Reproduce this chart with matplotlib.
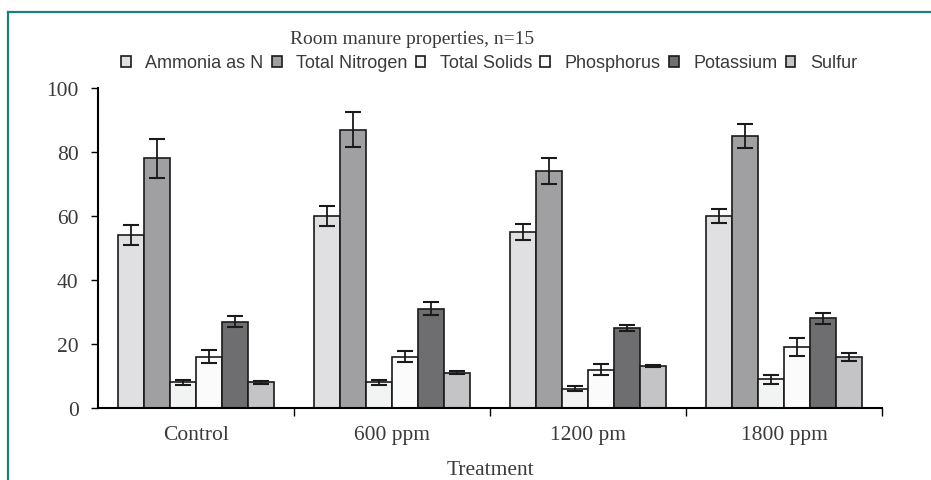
import matplotlib
matplotlib.use("Agg")
import matplotlib.pyplot as plt
import numpy as np
from matplotlib.lines import Line2D

categories = ["Control", "600 ppm", "1200 pm", "1800 ppm"]
series = ["Ammonia as N", "Total Nitrogen", "Total Solids", "Phosphorus", "Potassium", "Sulfur"]
ammonia = [54, 60, 55, 60]
total_nitrogen = [78, 87, 74, 85]
total_solids = [8, 8, 6, 9]
phosphorus = [16, 16, 12, 19]
potassium = [27, 31, 25, 28]
sulfur = [8, 11, 13, 16]
ammonia_err = [3.2, 3.2, 2.4, 2.2]
total_nitrogen_err = [6.0, 5.4, 4.0, 3.6]
total_solids_err = [0.9, 0.8, 0.8, 1.4]
phosphorus_err = [2.0, 1.7, 1.8, 2.8]
potassium_err = [1.6, 2.0, 1.0, 1.6]
sulfur_err = [0.5, 0.5, 0.3, 1.2]

values = [ammonia, total_nitrogen, total_solids, phosphorus, potassium, sulfur]
errors = [ammonia_err, total_nitrogen_err, total_solids_err, phosphorus_err, potassium_err, sulfur_err]
colors = ["#e0e0e2", "#a0a0a2", "#f2f3f3", "#fbfbfb", "#6e6e70", "#c4c4c6"]

fig = plt.figure(figsize=(9.31, 4.81), dpi=100)
ax = fig.add_axes([98/931, 1-409/481, (882-98)/931, (409-89)/481])

x = np.arange(len(categories))
w = 0.8 / 6
handles = []
for i, (v, e, c, s) in enumerate(zip(values, errors, colors, series)):
    pos = x - 0.4 + w * (i + 0.5)
    b = ax.bar(pos, v, width=w, color=c, edgecolor="#1a1a1a", linewidth=1.2, label=s, zorder=2)
    ax.errorbar(pos, v, yerr=e, fmt="none", ecolor="#1a1a1a", elinewidth=1.3, capsize=6, capthick=1.5, zorder=3)
    handles.append(b)

serif = "Liberation Serif"
txtc = "#3a3a3a"
ax.set_xlim(-0.5, len(categories) - 0.5)
ax.set_ylim(0, 100)
ax.set_yticks([0, 20, 40, 60, 80, 100])
ax.set_xticks(x)
ax.set_xticklabels(categories, fontfamily=serif, fontsize=15.5)
ax.set_xticks(np.arange(0.5, len(categories), 1.0), minor=True)
ax.tick_params(axis="x", which="major", length=0, pad=12)
ax.tick_params(axis="x", which="minor", length=6, width=1, direction="out")
ax.tick_params(axis="y", length=5, width=1, direction="out", pad=9)
for lab in ax.get_yticklabels():
    lab.set_fontfamily(serif)
    lab.set_fontsize(15.5)
    lab.set_color(txtc)
for lab in ax.get_xticklabels():
    lab.set_color(txtc)
ax.spines["top"].set_visible(False)
ax.spines["right"].set_visible(False)
ax.spines["left"].set_linewidth(1.5)
ax.spines["bottom"].set_linewidth(1.5)
ax.set_xlabel("Treatment", fontfamily=serif, fontsize=15.5, color=txtc, labelpad=12)

fig.text(412/931, 1-40/481, "Room manure properties, n=15", ha="center", va="center",
         fontfamily=serif, fontsize=14, color=txtc)

leg = fig.legend(handles=handles, labels=series, loc="center", bbox_to_anchor=(489/931, 1-64/481),
                 ncol=6, frameon=False, handlelength=0.55, handleheight=0.55, handletextpad=0.8,
                 columnspacing=0.45, prop={"family": ["Liberation Sans Narrow", "Liberation Sans"], "size": 13})
for t in leg.get_texts():
    t.set_color(txtc)

fig.add_artist(Line2D([8/931, 1], [1-12.5/481, 1-12.5/481], color="#1a7f80", linewidth=1.6, transform=fig.transFigure))
fig.add_artist(Line2D([8/931, 8/931], [0, 1-12.5/481], color="#1a7f80", linewidth=1.6, transform=fig.transFigure))

fig.savefig("out.png", dpi=100)
